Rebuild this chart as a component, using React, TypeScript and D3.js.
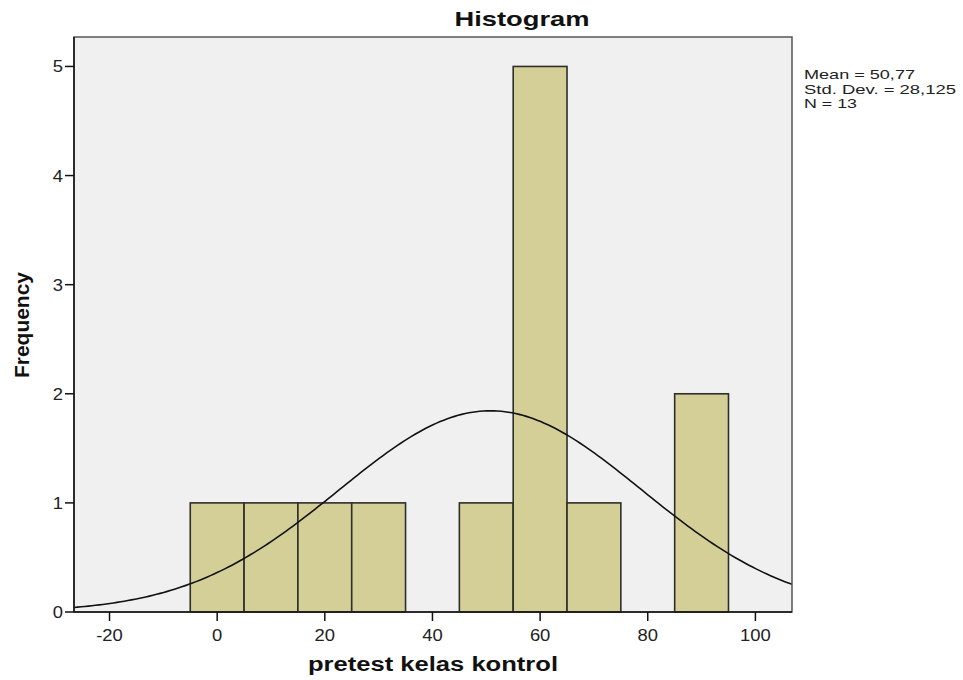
import * as d3 from "d3";

const binStarts = [-5, 5, 15, 25, 35, 45, 55, 65, 75, 85];
const binCounts = [1, 1, 1, 1, 0, 1, 5, 1, 0, 2];
const binWidth = 10;
const xTicks = [-20, 0, 20, 40, 60, 80, 100];
const yTicks = [0, 1, 2, 3, 4, 5];
const statsLines = ["Mean = 50,77", "Std. Dev. = 28,125", "N = 13"];
const statsWidths = [111, 152, 53];
const mean = 50.77;
const stdDev = 28.125;
const n = 13;

const W = 963;
const H = 680;
const plot = { left: 74, right: 792, top: 37, bottom: 612 };
const font = "'Liberation Sans', Arial, sans-serif";
// the reference is a little stretched sideways, so text gets widened to match
const stretch = 1.15;

export default function App() {
  const x = d3.scaleLinear().domain([-26.6, 106.8]).range([plot.left, plot.right]);
  const y = d3.scaleLinear().domain([0, 5.27]).range([plot.bottom, plot.top]);

  // normal curve from the reported stats, scaled to counts per bin
  const [x0, x1] = x.domain();
  const curvePts = d3.range(0, 201).map((i) => {
    const v = x0 + ((x1 - x0) * i) / 200;
    const z = (v - mean) / stdDev;
    return [v, (n * binWidth * Math.exp(-0.5 * z * z)) / (stdDev * Math.sqrt(2 * Math.PI))];
  });
  const line = d3
    .line<number[]>()
    .x((d) => x(d[0]))
    .y((d) => y(d[1]));

  return (
    <svg
      width={W}
      height={H}
      style={{ position: "absolute", left: 0, top: 0, background: "#fff" }}
      fontFamily={font}
    >
      <rect
        x={plot.left}
        y={plot.top}
        width={plot.right - plot.left}
        height={plot.bottom - plot.top}
        fill="#f0f0f0"
      />
      {binStarts.map((s, i) =>
        binCounts[i] > 0 ? (
          <rect
            key={s}
            x={x(s)}
            y={y(binCounts[i])}
            width={x(s + binWidth) - x(s)}
            height={y(0) - y(binCounts[i])}
            fill="#d3cf97"
            stroke="#2e2e2a"
            strokeWidth={1.6}
          />
        ) : null
      )}
      <path d={line(curvePts) || ""} fill="none" stroke="#111" strokeWidth={1.6} />
      <rect
        x={plot.left}
        y={plot.top}
        width={plot.right - plot.left}
        height={plot.bottom - plot.top}
        fill="none"
        stroke="#555"
        strokeWidth={1.5}
      />
      <line x1={plot.left} x2={plot.left} y1={plot.top} y2={plot.bottom} stroke="#111" strokeWidth={1.5} />
      <line x1={plot.left} x2={plot.right} y1={plot.bottom} y2={plot.bottom} stroke="#111" strokeWidth={1.5} />
      {yTicks.map((t) => (
        <g key={t}>
          <line x1={plot.left - 9} x2={plot.left} y1={y(t)} y2={y(t)} stroke="#111" strokeWidth={1.5} />
          <text
            transform={`translate(${plot.left - 11}, ${y(t) + 6}) scale(${stretch}, 1)`}
            textAnchor="end"
            fontSize={16}
            fill="#222"
          >
            {t}
          </text>
        </g>
      ))}
      {xTicks.map((t) => (
        <g key={t}>
          <line x1={x(t)} x2={x(t)} y1={plot.bottom} y2={plot.bottom + 9} stroke="#111" strokeWidth={1.5} />
          <text
            transform={`translate(${x(t)}, ${plot.bottom + 29}) scale(${stretch}, 1)`}
            textAnchor="middle"
            fontSize={16}
            fill="#222"
          >
            {t}
          </text>
        </g>
      ))}
      <text
        x={522}
        y={26}
        textAnchor="middle"
        fontSize={21}
        fontWeight="bold"
        fill="#111"
        textLength={135}
        lengthAdjust="spacingAndGlyphs"
      >
        Histogram
      </text>
      <text
        x={433}
        y={671}
        textAnchor="middle"
        fontSize={20}
        fontWeight="bold"
        fill="#111"
        textLength={250}
        lengthAdjust="spacingAndGlyphs"
      >
        pretest kelas kontrol
      </text>
      <text
        transform={`translate(29, 325) rotate(-90)`}
        textAnchor="middle"
        fontSize={20}
        fontWeight="bold"
        fill="#111"
        textLength={106}
        lengthAdjust="spacingAndGlyphs"
      >
        Frequency
      </text>
      {statsLines.map((s, i) => (
        <text
          key={s}
          x={804}
          y={79 + i * 14.5}
          fontSize={13}
          fill="#222"
          textLength={statsWidths[i]}
          lengthAdjust="spacingAndGlyphs"
        >
          {s}
        </text>
      ))}
    </svg>
  );
}
